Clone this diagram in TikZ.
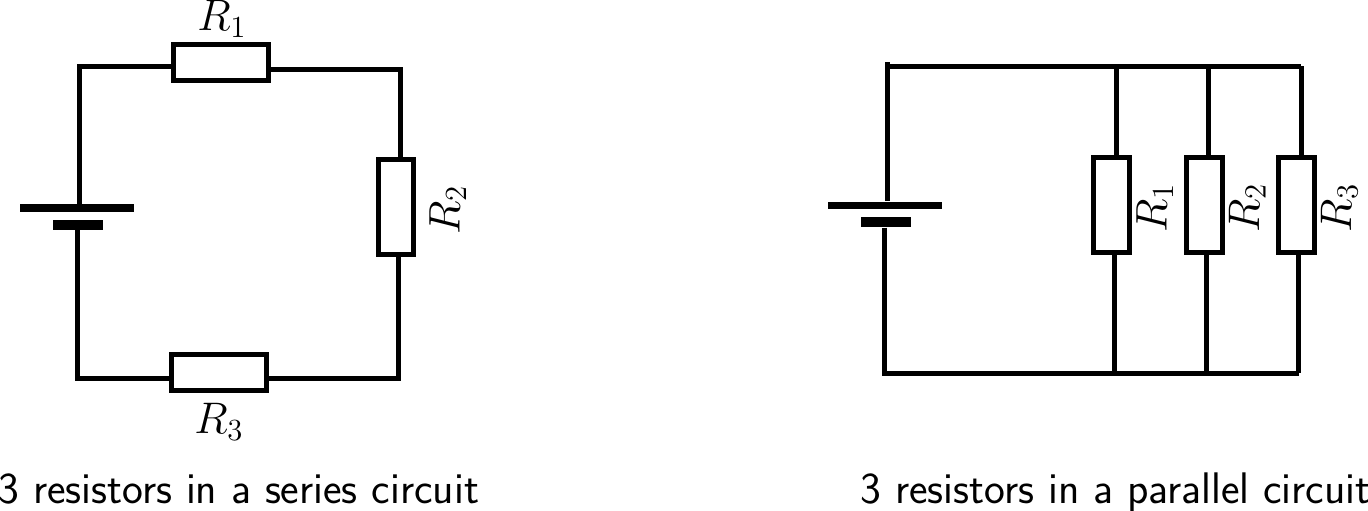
\documentclass[tikz,border=0pt]{standalone}

\tikzset{
    wire/.style={line width=2.5pt},
    resistorh/.style={draw, line width=2.5pt, minimum width=47.5pt, minimum height=18pt, inner sep=0pt},
    resistorv/.style={draw, line width=2.5pt, minimum width=17.75pt, minimum height=47.5pt, inner sep=0pt},
    longplate/.style={fill=black, inner sep=0pt, minimum width=57pt, minimum height=3.8pt},
    shortplate/.style={fill=black, inner sep=0pt, minimum width=25pt, minimum height=5pt},
    reslabel/.style={anchor=base, inner sep=0pt, font=\LARGE, scale=1.28},
    caption/.style={anchor=base west, inner sep=0pt, font=\LARGE\sffamily, scale=1.28}
}

\begin{document}
\begin{tikzpicture}[x=0.5pt, y=-0.5pt]
    \useasboundingbox (0,0) rectangle (1368,510);

    % Series circuit
    \node[longplate] (sPlus) at (77,208) {};
    \node[shortplate] (sMinus) at (78,225) {};
    \node[resistorh] (sR1) at (221,62.7) {};
    \node[resistorv] (sR2) at (396,207) {};
    \node[resistorh] (sR3) at (218.5,372.5) {};
    \coordinate (sTL) at (79,66.7);
    \coordinate (sTR) at (400.5,69);
    \coordinate (sBR) at (398,378);
    \coordinate (sBL) at (77.3,378);
    \draw[wire] (sPlus.north -| sTL) -- (sTL) -- (sR1.west |- sTL);
    \draw[wire] (sR1.east |- sTR) -- (sTR) -- (sR2.north -| sTR);
    \draw[wire] (sR2.south -| sBR) -- (sBR) -- (sR3.east |- sBR);
    \draw[wire] (sR3.west |- sBL) -- (sBL) -- (sMinus.south -| sBL);
    \node[reslabel] (sL1) at (222,30.5) {$R_1$};
    \node[reslabel, rotate=90] (sL2) at (459.5,210) {$R_2$};
    \node[reslabel] (sL3) at (219,433.5) {$R_3$};
    \node[caption] (sCap) at (-2,503) {3 resistors in a series circuit};

    % Parallel circuit
    \node[longplate] (pPlus) at (885,205.6) {};
    \node[shortplate] (pMinus) at (886,222.3) {};
    \coordinate (pTop) at (887,62);
    \coordinate (pTL) at (887,66.3);
    \coordinate (pTR) at (1301.3,66.3);
    \coordinate (pBL) at (884.8,373.3);
    \coordinate (pBR) at (1298.8,373.3);
    \draw[wire] (pTop) -- (pPlus.north -| pTop);
    \draw[wire] (pTL) -- (pTR);
    \draw[wire] (pMinus.south -| pBL) -- (pBL) -- (pBR);
    % Branches with their labels
    \foreach \n/\c/\a/\b/\l in {1/1111.7/1116.8/1114.4/1166.5, 2/1204.5/1208.9/1206.4/1259, 3/1296.5/1301.3/1298.8/1351} {
        \node[resistorv] (pR\n) at (\c,204.5) {};
        \coordinate (pa\n) at (\a,66.3);
        \coordinate (pb\n) at (\b,373.3);
        \draw[wire] (pa\n) -- (pR\n.north -| pa\n);
        \draw[wire] (pR\n.south -| pb\n) -- (pb\n);
        \node[reslabel, rotate=90] (pL\n) at (\l,208) {$R_\n$};
    }
    \node[caption] (pCap) at (860,503.7) {3 resistors in a parallel circuit};
\end{tikzpicture}
\end{document}
